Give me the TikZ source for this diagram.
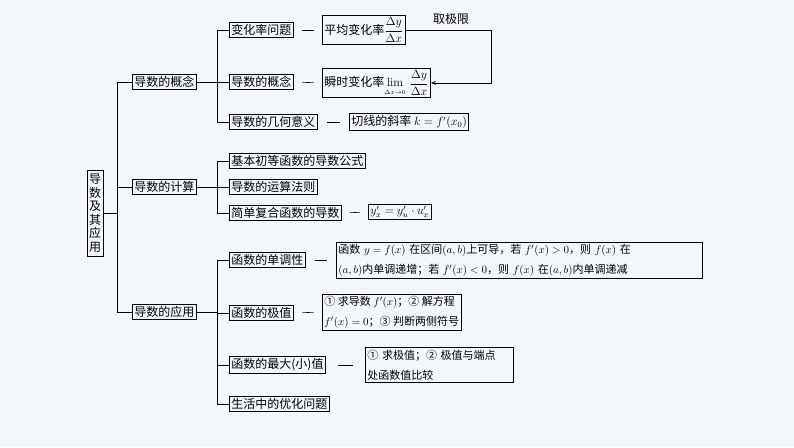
\documentclass[tikz,border=0pt]{standalone}
\usepackage{fontspec}
\usepackage{amsmath}
\newfontfamily\cjk{Noto Sans CJK SC}
\usetikzlibrary{arrows.meta,calc}
\definecolor{bg}{HTML}{F2F7FC}
\tikzset{
 bx/.style={draw,line width=0.8pt,inner sep=2pt,font=\cjk\fontsize{12}{13}\selectfont,anchor=west,align=left},
 ln/.style={line width=0.7pt}
}
\begin{document}
\begin{tikzpicture}[x=1pt,y=-1pt]
\fill[bg] (0,0) rectangle (794,447);
\useasboundingbox (0,0) rectangle (794,447);
\node[draw,line width=0.8pt,inner sep=2pt,font=\cjk\fontsize{12}{13.5}\selectfont,align=center,minimum height=86pt] (root) at (95,213) {导\\数\\及\\其\\应\\用};
\node[bx] (a1) at (132,82) {导数的概念};
\node[bx] (a2) at (132,187) {导数的计算};
\node[bx] (a3) at (132,312) {导数的应用};
\node[bx] (b1) at (229,30) {变化率问题};
\node[bx] (b2) at (229,82) {导数的概念};
\node[bx] (b3) at (229,122) {导数的几何意义};
\node[bx] (c1) at (229,161) {基本初等函数的导数公式};
\node[bx] (c2) at (229,187) {导数的运算法则};
\node[bx] (c3) at (229,213) {简单复合函数的导数};
\node[bx] (d1) at (229,260) {函数的单调性};
\node[bx] (d2) at (229,313) {函数的极值};
\node[bx] (d3) at (229,365) {函数的最大(小)值};
\node[bx] (d4) at (229,404) {生活中的优化问题};
% right boxes
\node[bx] (r1) at (322,30) {平均变化率$\dfrac{\Delta y}{\Delta x}$};
\node[bx] (r2) at (322,83) {瞬时变化率$\lim\limits_{\scriptscriptstyle\Delta x\to 0}\,\dfrac{\Delta y}{\Delta x}$};
\node[bx] (r3) at (349,122) {切线的斜率 $k=f'(x_0)$};
\node[bx] (r4) at (368,212) {$y'_x=y'_u\cdot u'_x$};
\node[bx,text width=362pt,font=\cjk\fontsize{11}{20}\selectfont] (r5) at (336,260) {函数 $y=f(x)$ 在区间$(a,b)$上可导，若 $f'(x)>0$，则 $f(x)$ 在\\$(a,b)$内单调递增；若 $f'(x)<0$，则 $f(x)$ 在$(a,b)$内单调递减};
\node[bx,font=\cjk\fontsize{11}{20}\selectfont] (r6) at (322,312) {① 求导数 $f'(x)$；② 解方程\\$f'(x)=0$；③ 判断两侧符号};
\node[bx,font=\cjk\fontsize{11}{20}\selectfont,text width=144pt] (r7) at (365,365) {① 求极值；② 极值与端点\\处函数值比较};
% trunks
\coordinate (t0) at (117,213);
\draw[ln] (root.east) -- (t0);
\draw[ln] (117,82) -- (117,312);
\foreach \n in {a1,a2,a3} \draw[ln] (117,0 |- \n.west) -- (\n.west);
\draw[ln] (a1.east) -- (217,82);
\draw[ln] (217,30) -- (217,122);
\foreach \n in {b1,b2,b3} \draw[ln] (217,0 |- \n.west) -- (\n.west);
\draw[ln] (a2.east) -- (217,187);
\draw[ln] (217,161) -- (217,213);
\foreach \n in {c1,c2,c3} \draw[ln] (217,0 |- \n.west) -- (\n.west);
\draw[ln] (a3.east) -- (217,312);
\draw[ln] (217,260) -- (217,404);
\foreach \n in {d1,d2,d3,d4} \draw[ln] (217,0 |- \n.west) -- (\n.west);
% dashes
\foreach \a/\b in {b1/r1,b2/r2,b3/r3,c3/r4,d1/r5,d2/r6,d3/r7}
  \draw[line width=0.6pt] ($(\a.east)!0.3!(\b.west)$) -- ($(\a.east)!0.7!(\b.west)$);
\draw[line width=0.7pt,-{Stealth[length=5pt]}] (r1.east) -- (491,30) -- (491,83) -- (r2.east);
\node[font=\cjk\fontsize{12}{13}\selectfont] (lab) at (451,19) {取极限};
\end{tikzpicture}
\end{document}
